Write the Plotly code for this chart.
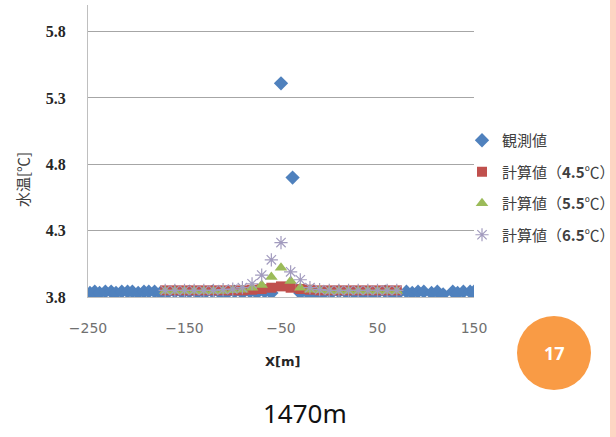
import plotly.graph_objects as go

# ---- data ----
obs_x = [-248, -243, -238, -232, -226, -221, -215, -209, -204, -198, -192, -187, -181,
         -175, -168, -160, -152, -145, -137, -129, -121, -113, -106, -98, -90, -82, -75,
         -67, -60, -50, -38, -30, -22, -14, -6, 2, 10, 18, 26, 34, 42, 50, 58, 66, 72,
         80, 86, 92, 98, 106, 112, 118, 128, 133, 139, 146, 150]
obs_y = [3.83, 3.84, 3.83, 3.84, 3.84, 3.83, 3.84, 3.84, 3.84, 3.83, 3.84, 3.84, 3.84,
         3.83, 3.83, 3.84, 3.83, 3.84, 3.83, 3.83, 3.84, 3.83, 3.83, 3.84, 3.83, 3.84, 3.83,
         3.84, 3.83, 5.41, 4.70, 3.83, 3.83, 3.82, 3.83, 3.83, 3.84, 3.83, 3.83, 3.83, 3.82,
         3.83, 3.84, 3.82, 3.83, 3.84, 3.83, 3.84, 3.84, 3.83, 3.84, 3.82, 3.84, 3.83, 3.84,
         3.84, 3.84]

calc_x = [-170, -160, -150, -140, -130, -120, -110, -100, -90, -80, -70, -60, -50,
          -40, -30, -20, -10, 0, 10, 20, 30, 40, 50, 60, 70]
calc45 = [3.85, 3.85, 3.85, 3.85, 3.85, 3.85, 3.85, 3.85, 3.85, 3.855, 3.86, 3.87, 3.88,
          3.87, 3.86, 3.855, 3.85, 3.85, 3.85, 3.85, 3.85, 3.85, 3.85, 3.85, 3.85]
calc55 = [3.845, 3.845, 3.845, 3.845, 3.845, 3.845, 3.845, 3.85, 3.855, 3.87, 3.89, 3.95, 4.02,
          3.92, 3.87, 3.855, 3.85, 3.845, 3.845, 3.845, 3.845, 3.845, 3.845, 3.845, 3.845]
calc65 = [3.85, 3.85, 3.85, 3.85, 3.85, 3.85, 3.855, 3.86, 3.87, 3.90, 3.965, 4.08, 4.21,
          3.99, 3.93, 3.87, 3.855, 3.85, 3.85, 3.85, 3.85, 3.85, 3.85, 3.85, 3.85]

x_ticks = [-250, -150, -50, 50, 150]
y_ticks = [3.8, 4.3, 4.8, 5.3, 5.8]

names = ["観測値", "計算値（<b>4.5</b>℃）", "計算値（<b>5.5</b>℃）", "計算値（<b>6.5</b>℃）"]

fig = go.Figure()
fig.add_trace(go.Scatter(x=obs_x, y=obs_y, mode="markers", name=names[0], legendgroup="a",
                         marker=dict(symbol="diamond", size=11, color="#4F81BD")))
fig.add_trace(go.Scatter(x=calc_x, y=calc45, mode="markers", name=names[1], legendgroup="b",
                         marker=dict(symbol="square", size=10, color="#C0504D")))
fig.add_trace(go.Scatter(x=calc_x, y=calc55, mode="markers", name=names[2], legendgroup="c",
                         marker=dict(symbol="triangle-up", size=11, color="#9BBB59")))
fig.add_trace(go.Scatter(x=calc_x, y=calc65, mode="markers", name=names[3], legendgroup="d",
                         marker=dict(symbol="asterisk-open", size=11, color="#A29BBE",
                                     line=dict(color="#A29BBE", width=1.2))))

L, R, T, B = 88, 474, 5, 297
W, H = 616, 437
pw, ph = R - L, B - T

def px(x):
    return (x - L) / pw

def py(y):
    return (B - y) / ph

def note(text, x, y, font, angle=0):
    return dict(text=text, xref="paper", yref="paper", x=px(x), y=py(y),
                xanchor="center", yanchor="middle", showarrow=False,
                textangle=angle, font=font)

fig.update_layout(
    width=W, height=H,
    margin=dict(l=L, r=W - R, t=T, b=H - B, autoexpand=False),
    plot_bgcolor="white", paper_bgcolor="white",
    font=dict(family="Noto Sans CJK JP", color="#404040"),
    showlegend=True,
    legend=dict(x=px(462), y=py(124), xanchor="left", yanchor="top",
                font=dict(size=15, color="#404040", family="Noto Sans CJK JP"),
                tracegroupgap=9, itemwidth=30, bgcolor="rgba(0,0,0,0)"),
    xaxis=dict(range=[-250, 150], tickvals=x_ticks, ticktext=[str(v).replace("-", "−") for v in x_ticks],
               showgrid=False, zeroline=False, showline=True, linecolor="#BFBFBF",
               ticks="", ticklabelstandoff=18,
               tickfont=dict(family="DejaVu Sans", size=14, color="#707070")),
    yaxis=dict(range=[3.8, 6.0], tickvals=y_ticks, ticktext=[f"{v:.1f}" for v in y_ticks],
               showgrid=True, gridcolor="#A6A6A6", gridwidth=1, zeroline=False,
               showline=True, linecolor="#BFBFBF", ticks="", ticklabelstandoff=18,
               tickfont=dict(family="Liberation Serif", size=16, color="#262626", weight="bold")),
    shapes=[
        dict(type="circle", xref="paper", yref="paper",
             x0=px(517), x1=px(591), y0=py(390), y1=py(316),
             fillcolor="#F99B45", line=dict(width=0), layer="above"),
        dict(type="rect", xref="paper", yref="paper",
             x0=px(610), x1=px(620), y0=py(440), y1=py(-5),
             fillcolor="#FDD5C3", line=dict(width=0), layer="above"),
    ],
    annotations=[
        note("17", 554, 353, dict(family="Noto Sans", size=18, color="white", weight="bold")),
        note("1470m", 305, 413, dict(family="Noto Sans", size=26, color="#111111")),
        note("<b>X[m]</b>", 282, 361, dict(family="DejaVu Sans", size=13, color="#262626")),
        note("水温[℃]", 22, 180, dict(family="Noto Sans CJK JP", size=15, color="#404040"), -90),
    ],
)

fig.write_html("out.html")
